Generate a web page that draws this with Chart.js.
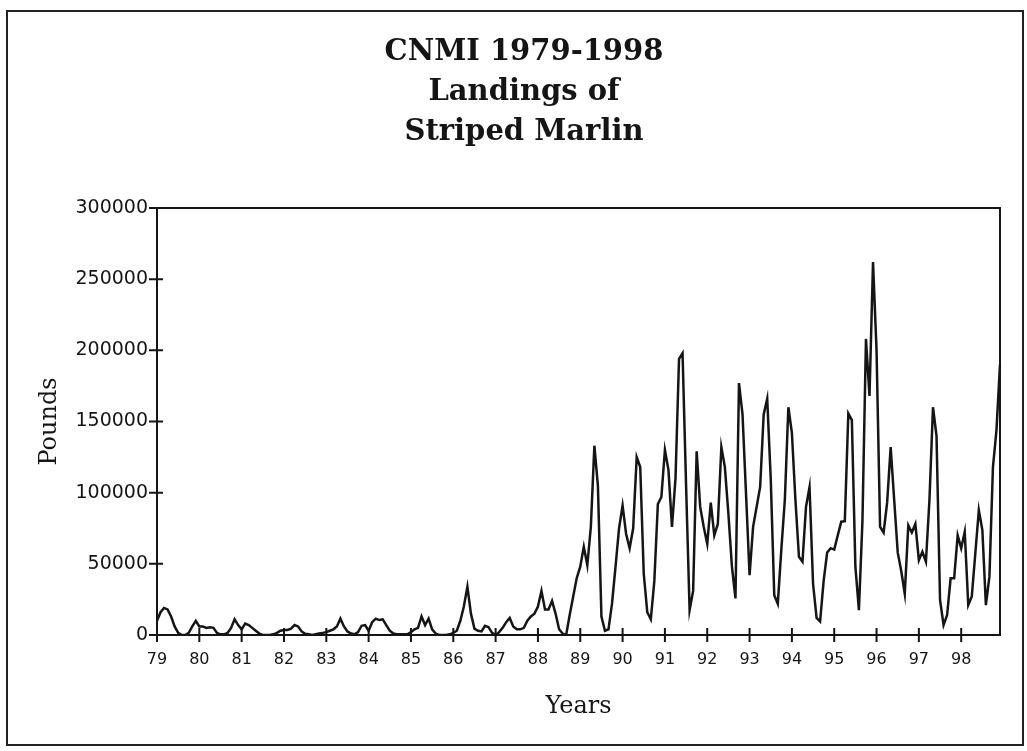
<!DOCTYPE html>
<html>
<head>
<meta charset="utf-8">
<title>CNMI Striped Marlin Landings</title>
<script src="https://cdn.jsdelivr.net/npm/chart.js@4.4.0/dist/chart.umd.min.js"></script>
<style>
    html, body { margin: 0; padding: 0; background: #fff; }
</style>
</head>
<body>
<canvas id="marlinChart" width="1027" height="751"></canvas>
<script>
// Title lines, drawn centred on the page (not on the plot)
const titleLines = ['CNMI 1979-1998', 'Landings of', 'Striped Marlin'];

// Year labels shown under the x axis (one tick per January)
const yearLabels = ['79', '80', '81', '82', '83', '84', '85', '86', '87', '88',
                    '89', '90', '91', '92', '93', '94', '95', '96', '97', '98'];

// Monthly landings in pounds, one row per year (Jan..Dec)
const pounds = [
    10000, 16000, 19000, 18000, 13000, 6000, 1500, 0, 0, 1500, 6000, 10000,            // 79
    6000, 6000, 5000, 5500, 5000, 1500, 500, 500, 1500, 5000, 11000, 7000,              // 80
    4000, 8000, 7000, 5000, 3000, 1000, 0, 0, 0, 500, 1500, 3000,                       // 81
    3500, 3500, 4500, 7000, 6000, 2500, 800, 500, 0, 500, 1000, 1500,                   // 82
    2000, 3000, 4000, 6000, 11500, 6000, 2500, 1000, 500, 2000, 6500, 7000,             // 83
    3000, 9000, 11500, 10500, 11000, 7000, 3000, 1000, 500, 500, 500, 500,              // 84
    2000, 4000, 5000, 13000, 7000, 11500, 4000, 1000, 0, 0, 0, 500,                     // 85
    1500, 3000, 10000, 20000, 34000, 15000, 4500, 3000, 2500, 6500, 5500, 1500,         // 86
    0, 2000, 5000, 9000, 12000, 6000, 4000, 4000, 5000, 10000, 13000, 15000,            // 87
    20000, 31000, 18000, 18000, 24000, 15000, 4000, 1000, 0, 14000, 27000, 40000,       // 88
    48000, 62000, 49000, 76000, 133000, 105000, 13000, 3000, 4000, 22000, 48000, 75000, // 89
    91000, 71000, 61000, 75000, 125000, 118000, 43000, 16000, 11000, 38000, 92000, 97000, // 90
    130000, 116000, 76000, 110000, 194000, 198000, 105000, 17500, 31000, 129000, 90000, 76000, // 91
    64000, 93000, 70000, 78000, 132000, 118000, 85000, 48000, 25700, 177000, 155000, 99000, // 92
    42000, 76000, 90000, 104000, 155000, 166000, 110000, 28000, 22000, 60000, 95000, 160000, // 93
    142000, 95000, 55000, 51500, 90000, 104000, 36000, 12000, 9500, 38000, 58000, 61000, // 94
    60000, 70000, 79600, 80000, 155600, 151000, 48000, 17500, 80000, 208000, 168000, 262000, // 95
    200000, 76000, 72000, 93000, 132000, 95000, 58000, 45000, 29000, 77000, 72000, 78000, // 96
    52600, 58500, 51500, 95000, 160000, 140000, 24600, 7000, 14000, 39800, 39800, 70000, // 97
    61000, 72500, 21000, 27000, 57300, 87700, 73700, 21000, 41000, 118000, 144000, 190000 // 98
];

const yTicks = [0, 50000, 100000, 150000, 200000, 250000, 300000];

// Category labels: year label on January, blank otherwise
const monthLabels = [];
yearLabels.forEach(y => {
    monthLabels.push(y);
    for (let m = 1; m < 12; m++) monthLabels.push('');
});

const ink = '#151515';

// White page, outer figure frame and the three-line title
const pageFrame = {
    id: 'pageFrame',
    beforeDraw(chart) {
        const ctx = chart.ctx;
        ctx.save();
        ctx.fillStyle = '#fff';
        ctx.fillRect(0, 0, chart.width, chart.height);
        ctx.strokeStyle = '#222';
        ctx.lineWidth = 2;
        ctx.strokeRect(7, 11, 1016, 734);

        ctx.fillStyle = ink;
        ctx.font = 'bold 29px "DejaVu Serif"';
        ctx.textAlign = 'center';
        ctx.textBaseline = 'middle';
        titleLines.forEach((line, i) => ctx.fillText(line, 524, 52 + i * 40));
        ctx.restore();
    }
};

// Box round the plot area and tick marks crossing both axes
const plotFrame = {
    id: 'plotFrame',
    afterDraw(chart) {
        const {ctx, chartArea: a, scales} = chart;
        ctx.save();
        ctx.strokeStyle = ink;
        ctx.lineWidth = 2;
        ctx.strokeRect(a.left, a.top, a.right - a.left, a.bottom - a.top);

        ctx.beginPath();
        for (let i = 0; i < monthLabels.length; i += 12) {
            const px = scales.x.getPixelForValue(i);
            ctx.moveTo(px, a.bottom - 7);
            ctx.lineTo(px, a.bottom + 7);
        }
        scales.y.ticks.forEach(t => {
            const py = scales.y.getPixelForValue(t.value);
            ctx.moveTo(a.left - 8, py);
            ctx.lineTo(a.left + 6, py);
        });
        ctx.stroke();
        ctx.restore();
    }
};

new Chart(document.getElementById('marlinChart'), {
    type: 'line',
    data: {
        labels: monthLabels,
        datasets: [{
            label: 'Pounds',
            data: pounds,
            borderColor: ink,
            borderWidth: 2.5,
            pointRadius: 0,
            tension: 0,
            fill: false
        }]
    },
    options: {
        responsive: false,
        animation: false,
        layout: {
            padding: { left: 8, right: 27, top: 208, bottom: 16 }
        },
        plugins: {
            legend: { display: false },
            tooltip: { enabled: false },
            title: { display: false }
        },
        scales: {
            x: {
                offset: false,
                grid: { display: false, drawTicks: false },
                border: { display: false },
                ticks: {
                    autoSkip: false,
                    maxRotation: 0,
                    padding: 15,
                    color: ink,
                    font: { family: 'DejaVu Sans', size: 16 }
                },
                title: {
                    display: true,
                    text: 'Years',
                    color: ink,
                    font: { family: 'DejaVu Serif', size: 24 },
                    padding: { top: 0, bottom: 14 }
                },
                afterFit(scale) { scale.height = 100; }
            },
            y: {
                min: 0,
                max: 300000,
                grid: { display: false, drawTicks: false },
                border: { display: false },
                afterBuildTicks(scale) {
                    scale.ticks = yTicks.map(v => ({ value: v }));
                },
                ticks: {
                    padding: 9,
                    color: ink,
                    font: { family: 'DejaVu Sans', size: 19 },
                    callback: v => String(v)
                },
                title: {
                    display: true,
                    text: 'Pounds',
                    color: ink,
                    font: { family: 'DejaVu Serif', size: 24 },
                    padding: { top: 27, bottom: 0 }
                },
                afterFit(scale) { scale.width = 149; }
            }
        }
    },
    plugins: [pageFrame, plotFrame]
});
</script>
</body>
</html>
